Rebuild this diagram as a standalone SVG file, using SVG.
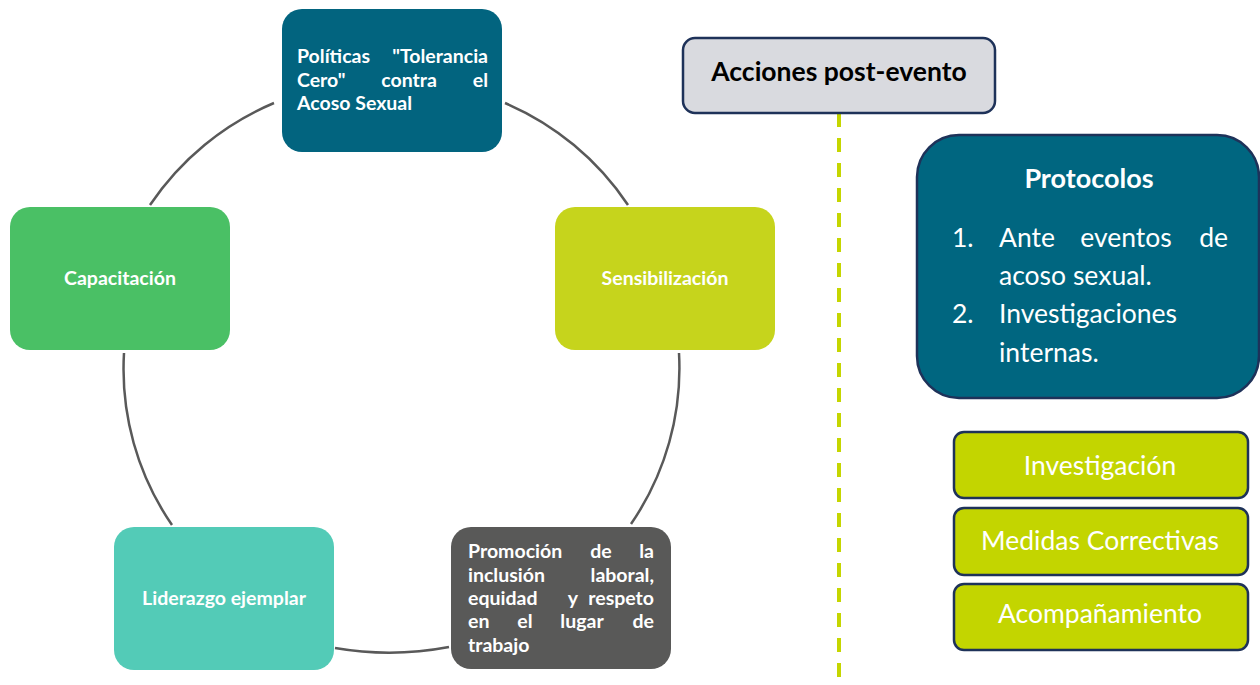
<svg xmlns="http://www.w3.org/2000/svg" width="1260" height="685" viewBox="0 0 1260 685">
<style>
.nb{font-family:Lato,"Liberation Sans",sans-serif;font-weight:bold;font-size:19.5px;fill:#ffffff}
.rt{font-family:Lato,"Liberation Sans",sans-serif;font-size:26.5px;fill:#ffffff}
.arc{fill:none;stroke:#595959;stroke-width:2.5}
.gb{fill:#c3d500;stroke:#1e3259;stroke-width:2.5}
</style>
<rect width="1260" height="685" fill="#ffffff"/>
<g id="connectors">
<path class="arc" d="M505,103 A280,280 0 0 1 628,205"/>
<path class="arc" d="M679,353 A275,275 0 0 1 631,524"/>
<path class="arc" d="M449,647 A320,320 0 0 1 335,648"/>
<path class="arc" d="M172,525 A275,275 0 0 1 124,353"/>
<path class="arc" d="M150,205 A280,280 0 0 1 274,103"/>
<line x1="839" y1="113" x2="839" y2="690" stroke="#c5d600" stroke-width="4" stroke-dasharray="14 11"/>
</g>
<g id="n-politicas">
<rect x="282" y="9" width="220" height="143" rx="20" fill="#02647f"/>
<text class="nb" x="297" y="63">Políticas</text>
<text class="nb" x="488" y="63" text-anchor="end">"Tolerancia</text>
<text class="nb" x="297" y="87">Cero"</text>
<text class="nb" x="409" y="87" text-anchor="middle">contra</text>
<text class="nb" x="488" y="87" text-anchor="end">el</text>
<text class="nb" x="297" y="110">Acoso Sexual</text>
</g>
<g id="n-sensibilizacion">
<rect x="555" y="207" width="220" height="143" rx="20" fill="#c6d41c"/>
<text class="nb" x="665" y="285" text-anchor="middle">Sensibilización</text>
</g>
<g id="n-capacitacion">
<rect x="10" y="207" width="220" height="143" rx="20" fill="#4ac065"/>
<text class="nb" x="120" y="285" text-anchor="middle">Capacitación</text>
</g>
<g id="n-liderazgo">
<rect x="114" y="527" width="220" height="143" rx="20" fill="#53cbb7"/>
<text class="nb" x="224" y="605" text-anchor="middle">Liderazgo ejemplar</text>
</g>
<g id="n-promocion">
<rect x="451" y="527" width="220" height="142" rx="20" fill="#595958"/>
<text class="nb" x="468" y="558">Promoción</text>
<text class="nb" x="601" y="558" text-anchor="middle">de</text>
<text class="nb" x="654" y="558" text-anchor="end">la</text>
<text class="nb" x="468" y="582">inclusión</text>
<text class="nb" x="654" y="582" text-anchor="end">laboral,</text>
<text class="nb" x="468" y="605">equidad</text>
<text class="nb" x="573" y="605" text-anchor="middle">y</text>
<text class="nb" x="654" y="605" text-anchor="end">respeto</text>
<text class="nb" x="468" y="628">en</text>
<text class="nb" x="525" y="628" text-anchor="middle">el</text>
<text class="nb" x="582" y="628" text-anchor="middle">lugar</text>
<text class="nb" x="654" y="628" text-anchor="end">de</text>
<text class="nb" x="468" y="652">trabajo</text>
</g>
<g id="n-acciones">
<rect x="683" y="38" width="312" height="75" rx="12" fill="#d9dadf" stroke="#1e3259" stroke-width="2.5"/>
<text x="839" y="81" text-anchor="middle" font-family="Lato,'Liberation Sans',sans-serif" font-weight="bold" font-size="26.5px" fill="#000000">Acciones post-evento</text>
</g>
<g id="n-protocolos">
<rect x="917" y="135" width="342" height="263" rx="42" fill="#006680" stroke="#1e3259" stroke-width="2.5"/>
<text x="1089" y="188" text-anchor="middle" font-family="Lato,'Liberation Sans',sans-serif" font-weight="bold" font-size="27px" fill="#ffffff">Protocolos</text>
<text class="rt" x="952" y="247">1.</text>
<text class="rt" x="999" y="247">Ante</text>
<text class="rt" x="1126" y="247" text-anchor="middle">eventos</text>
<text class="rt" x="1228" y="247" text-anchor="end">de</text>
<text class="rt" x="999" y="285">acoso sexual.</text>
<text class="rt" x="952" y="323">2.</text>
<text class="rt" x="999" y="323">Investigaciones</text>
<text class="rt" x="999" y="362">internas.</text>
</g>
<g id="n-investigacion">
<rect class="gb" x="954" y="432" width="294" height="66" rx="10"/>
<text class="rt" x="1100" y="475" text-anchor="middle">Investigación</text>
</g>
<g id="n-medidas">
<rect class="gb" x="954" y="508" width="294" height="67" rx="10"/>
<text class="rt" x="1100" y="550" text-anchor="middle">Medidas Correctivas</text>
</g>
<g id="n-acompanamiento">
<rect class="gb" x="954" y="584" width="294" height="66" rx="10"/>
<text class="rt" x="1100" y="623" text-anchor="middle">Acompañamiento</text>
</g>
</svg>
